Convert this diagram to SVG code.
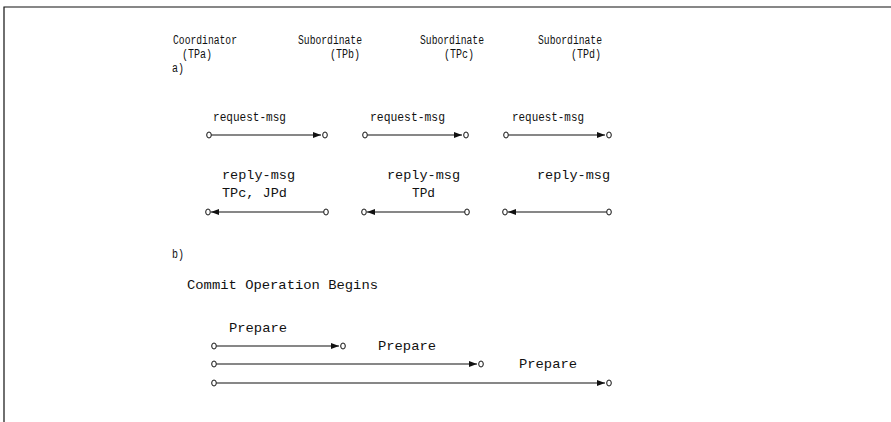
<svg xmlns="http://www.w3.org/2000/svg" width="891" height="422" viewBox="0 0 891 422">
<defs>
<style>
text{font-family:"Liberation Mono","DejaVu Sans Mono",monospace;font-size:13px;fill:#111}
.hd{font-size:12.5px}
.ln{stroke:#111;stroke-width:1.2;fill:none}
.end{stroke:#111;stroke-width:1;fill:none}
</style>
<marker id="ah" viewBox="0 0 8 6" refX="8" refY="3" markerWidth="8" markerHeight="6" markerUnits="userSpaceOnUse" orient="auto"><path d="M0,0 L8,3 L0,6 Z" fill="#111"/></marker>
</defs>
<rect width="891" height="422" fill="#fff"/>
<g id="frame"><path class="ln" d="M4,422 V7 H891" stroke-width="1.5"/></g>

<g id="headers">
<text class="hd" x="173" y="44" textLength="64" lengthAdjust="spacingAndGlyphs">Coordinator</text>
<text class="hd" x="182" y="58" textLength="30" lengthAdjust="spacingAndGlyphs">(TPa)</text>
<text class="hd" x="298" y="44" textLength="64" lengthAdjust="spacingAndGlyphs">Subordinate</text>
<text class="hd" x="330" y="58" textLength="30" lengthAdjust="spacingAndGlyphs">(TPb)</text>
<text class="hd" x="420" y="44" textLength="64" lengthAdjust="spacingAndGlyphs">Subordinate</text>
<text class="hd" x="444" y="58" textLength="30" lengthAdjust="spacingAndGlyphs">(TPc)</text>
<text class="hd" x="538" y="44" textLength="64" lengthAdjust="spacingAndGlyphs">Subordinate</text>
<text class="hd" x="571" y="58" textLength="30" lengthAdjust="spacingAndGlyphs">(TPd)</text>
<text class="hd" x="172" y="72" textLength="12" lengthAdjust="spacingAndGlyphs">a)</text>
<text x="172" y="258" textLength="12" lengthAdjust="spacingAndGlyphs">b)</text>
<text x="187" y="289" textLength="191" lengthAdjust="spacingAndGlyphs">Commit Operation Begins</text>
</g>

<g id="labels">
<text class="hd" x="213" y="121" textLength="73" lengthAdjust="spacingAndGlyphs">request-msg</text>
<text class="hd" x="370" y="121" textLength="75" lengthAdjust="spacingAndGlyphs">request-msg</text>
<text class="hd" x="512" y="121" textLength="72" lengthAdjust="spacingAndGlyphs">request-msg</text>
<text x="222" y="179" textLength="73" lengthAdjust="spacingAndGlyphs">reply-msg</text>
<text x="222" y="197" textLength="65" lengthAdjust="spacingAndGlyphs">TPc, JPd</text>
<text x="387" y="179" textLength="73" lengthAdjust="spacingAndGlyphs">reply-msg</text>
<text x="412" y="197" textLength="23" lengthAdjust="spacingAndGlyphs">TPd</text>
<text x="537" y="179" textLength="73" lengthAdjust="spacingAndGlyphs">reply-msg</text>
<text x="229" y="332" textLength="58" lengthAdjust="spacingAndGlyphs">Prepare</text>
<text x="378" y="350" textLength="58" lengthAdjust="spacingAndGlyphs">Prepare</text>
<text x="519" y="368" textLength="58" lengthAdjust="spacingAndGlyphs">Prepare</text>
</g>

<g id="endpoints">
<ellipse class="end" cx="209" cy="135" rx="2.3" ry="3"/><ellipse class="end" cx="325" cy="135" rx="2.3" ry="3"/>
<ellipse class="end" cx="365" cy="135" rx="2.3" ry="3"/><ellipse class="end" cx="466" cy="135" rx="2.3" ry="3"/>
<ellipse class="end" cx="506" cy="135" rx="2.3" ry="3"/><ellipse class="end" cx="609" cy="135" rx="2.3" ry="3"/>
<ellipse class="end" cx="208" cy="212" rx="2.3" ry="3"/><ellipse class="end" cx="326" cy="212" rx="2.3" ry="3"/>
<ellipse class="end" cx="364" cy="212" rx="2.3" ry="3"/><ellipse class="end" cx="467" cy="212" rx="2.3" ry="3"/>
<ellipse class="end" cx="505" cy="212" rx="2.3" ry="3"/><ellipse class="end" cx="609" cy="212" rx="2.3" ry="3"/>
<ellipse class="end" cx="214" cy="346" rx="2.3" ry="3"/><ellipse class="end" cx="343" cy="346" rx="2.3" ry="3"/>
<ellipse class="end" cx="214" cy="364" rx="2.3" ry="3"/><ellipse class="end" cx="481" cy="364" rx="2.3" ry="3"/>
<ellipse class="end" cx="214" cy="383" rx="2.3" ry="3"/><ellipse class="end" cx="609" cy="383" rx="2.3" ry="3"/>
</g>

<g id="connectors">
<line class="ln" x1="211.5" y1="135" x2="321" y2="135" marker-end="url(#ah)"/>
<line class="ln" x1="367.5" y1="135" x2="462" y2="135" marker-end="url(#ah)"/>
<line class="ln" x1="508.5" y1="135" x2="605" y2="135" marker-end="url(#ah)"/>
<line class="ln" x1="323.5" y1="212" x2="211" y2="212" marker-end="url(#ah)"/>
<line class="ln" x1="464.5" y1="212" x2="367" y2="212" marker-end="url(#ah)"/>
<line class="ln" x1="606.5" y1="212" x2="508" y2="212" marker-end="url(#ah)"/>
<line class="ln" x1="216.5" y1="346" x2="339" y2="346" marker-end="url(#ah)"/>
<line class="ln" x1="216.5" y1="364" x2="477" y2="364" marker-end="url(#ah)"/>
<line class="ln" x1="216.5" y1="383" x2="605" y2="383" marker-end="url(#ah)"/>
</g>
</svg>
